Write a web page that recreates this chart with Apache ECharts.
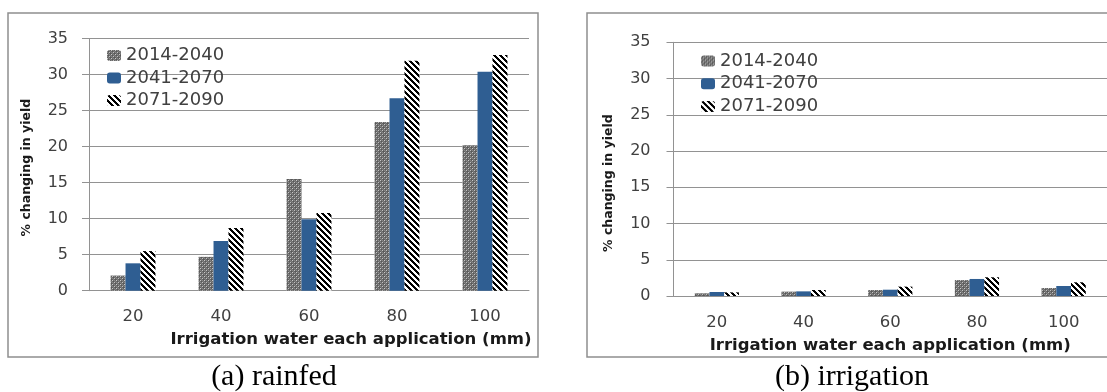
<!DOCTYPE html>
<html>
<head>
<meta charset="utf-8">
<script src="https://cdn.jsdelivr.net/npm/echarts@6/dist/echarts.min.js"></script>
<style>
html,body{margin:0;padding:0;background:#fff;}
#c{width:1107px;height:392px;}
</style>
</head>
<body>
<div id="c"></div>
<script>
// ---- data ----
const categories = ['20', '40', '60', '80', '100'];
const seriesNames = ['2014-2040', '2041-2070', '2071-2090'];
const yTicks = [0, 5, 10, 15, 20, 25, 30, 35];
const rainfed2014 = [2.1, 4.7, 15.5, 23.4, 20.2];
const rainfed2041 = [3.8, 6.9, 9.9, 26.7, 30.4];
const rainfed2071 = [5.5, 8.7, 10.8, 31.9, 32.7];
const irrig2014 = [0.37, 0.6, 0.83, 2.2, 1.1];
const irrig2041 = [0.55, 0.64, 0.87, 2.35, 1.38];
const irrig2071 = [0.5, 0.83, 1.29, 2.58, 1.89];
const panelTitles = ['(a) rainfed', '(b) irrigation'];
const xName = 'Irrigation water each application (mm)';
const yName = '% changing in yield';

// ---- patterns ----
function dotPattern() {
  const c = document.createElement('canvas');
  c.width = 4; c.height = 4;
  const ctx = c.getContext('2d');
  const img = ctx.createImageData(4, 4);
  const m = [
    [0xc8, 0x6c, 0x88, 0x60],
    [0x6c, 0x58, 0x6c, 0x80],
    [0x88, 0x6c, 0xc0, 0x64],
    [0x60, 0x80, 0x64, 0x58]
  ];
  for (let y = 0; y < 4; y++) for (let x = 0; x < 4; x++) {
    const i = (y * 4 + x) * 4, v = m[y][x];
    img.data[i] = v; img.data[i + 1] = v; img.data[i + 2] = v; img.data[i + 3] = 255;
  }
  ctx.putImageData(img, 0, 0);
  return c;
}
function hatchPattern() {
  const n = 6;
  const c = document.createElement('canvas');
  c.width = n; c.height = n;
  const ctx = c.getContext('2d');
  const img = ctx.createImageData(n, n);
  for (let y = 0; y < n; y++) for (let x = 0; x < n; x++) {
    const i = (y * n + x) * 4;
    const d = ((x - y) % n + n) % n;
    const v = d < 3 ? 0 : 255;
    img.data[i] = v; img.data[i + 1] = v; img.data[i + 2] = v; img.data[i + 3] = 255;
  }
  ctx.putImageData(img, 0, 0);
  return c;
}
const grayFill = { image: dotPattern(), repeat: 'repeat' };
const blueFill = '#2f5e92';
const hatchFill = { image: hatchPattern(), repeat: 'repeat' };
const fills = [grayFill, blueFill, hatchFill];

const chart = echarts.init(document.getElementById('c'));
const tickColor = '#404040';
const gridColor = '#929292';

function xAxisCfg(gi, namePad) {
  return {
    type: 'category', gridIndex: gi, data: categories,
    axisLine: { lineStyle: { color: gridColor, width: 1 } },
    axisTick: { show: false },
    axisLabel: { color: tickColor, fontSize: 16.5, fontFamily: 'DejaVu Sans', margin: 18 },
    name: xName, nameLocation: 'middle', nameGap: 41,
    nameTextStyle: { color: '#1a1a1a', fontSize: 16.5, fontWeight: 'bold', fontFamily: 'DejaVu Sans', padding: namePad }
  };
}
function yAxisCfg(gi, labMargin, nameGap, namePad) {
  return {
    type: 'value', gridIndex: gi, min: 0, max: 35, interval: 5,
    axisLine: { show: true, lineStyle: { color: gridColor, width: 1 } },
    axisTick: { show: true, length: 7, lineStyle: { color: gridColor } },
    splitLine: { lineStyle: { color: gridColor, width: 1 } },
    axisLabel: { color: tickColor, fontSize: 16, fontFamily: 'DejaVu Sans', margin: labMargin,
      formatter: v => yTicks.includes(v) ? String(v) : '' },
    name: yName, nameLocation: 'middle', nameGap: nameGap, nameRotate: 90,
    nameTextStyle: { color: '#1a1a1a', fontSize: 12.5, fontWeight: 'bold', fontFamily: 'DejaVu Sans', padding: namePad }
  };
}
const panelData = [[rainfed2014, rainfed2041, rainfed2071], [irrig2014, irrig2041, irrig2071]];
const series = [];
panelData.forEach((arrs, p) => {
  arrs.forEach((d, k) => {
    series.push({
      type: 'bar', name: seriesNames[k], xAxisIndex: p, yAxisIndex: p, data: d,
      barGap: '0%', barCategoryGap: '49%',
      itemStyle: { color: fills[k] }, emphasis: { disabled: true }
    });
  });
});
function legendCfg(left, top, gap) {
  return {
    data: seriesNames, orient: 'vertical', left: left, top: top,
    itemWidth: 14, itemHeight: 11, itemGap: gap, padding: 0,
    textStyle: { color: tickColor, fontSize: 18, lineHeight: 18, fontFamily: 'DejaVu Sans' }
  };
}
chart.setOption({
  animation: false,
  backgroundColor: '#ffffff',
  title: [
    { text: panelTitles[0], left: 274, top: 362, textAlign: 'center', padding: 0,
      textStyle: { fontFamily: 'Liberation Serif', fontSize: 30, fontWeight: 'normal', color: '#000' } },
    { text: panelTitles[1], left: 852, top: 362, textAlign: 'center', padding: 0,
      textStyle: { fontFamily: 'Liberation Serif', fontSize: 30, fontWeight: 'normal', color: '#000' } }
  ],
  graphic: [
    { type: 'rect', shape: { x: 8, y: 13, width: 530, height: 344 }, style: { fill: 'none', stroke: '#8f8f8f', lineWidth: 1.5 }, silent: true },
    { type: 'rect', shape: { x: 587, y: 13, width: 600, height: 344 }, style: { fill: 'none', stroke: '#8f8f8f', lineWidth: 1.5 }, silent: true }
  ],
  legend: [legendCfg(107, 46.5, 4.5), legendCfg(701, 52, 4.8)],
  grid: [
    { left: 89, top: 38.5, width: 440, height: 252.2, containLabel: false },
    { left: 673.5, top: 42.3, width: 436, height: 253.7, containLabel: false }
  ],
  xAxis: [xAxisCfg(0, [0, 0, 0, 84]), xAxisCfg(1, 0)],
  yAxis: [yAxisCfg(0, 21, 56, [0, 6, 0, 0]), yAxisCfg(1, 23, 58, [0, 28, 0, 0])],
  series: series
});
</script>
</body>
</html>
